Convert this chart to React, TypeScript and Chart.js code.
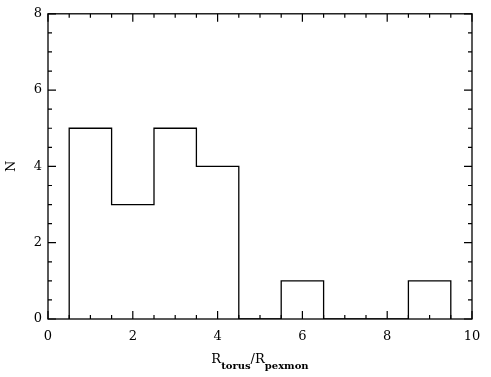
import React, { useEffect, useRef } from "react";
import { Chart, registerables } from "chart.js";

Chart.register(...registerables);

const binLeftEdges = [0.5, 1.5, 2.5, 3.5, 4.5, 5.5, 6.5, 7.5, 8.5];
const binWidth = 1;
const counts = [5, 3, 5, 4, 0, 1, 0, 0, 1];
const xTicks = [0, 2, 4, 6, 8, 10];
const yTicks = [0, 2, 4, 6, 8];
const yTitle = "N";
const xTitleParts = [
  { text: "R", sub: false },
  { text: "torus", sub: true },
  { text: "/R", sub: false },
  { text: "pexmon", sub: true },
];

const FONT = "'DejaVu Serif', 'Liberation Serif', serif";

export default function App() {
  const ref = useRef<HTMLCanvasElement | null>(null);

  useEffect(() => {
    document.body.style.margin = "0";
    const canvas = ref.current;
    if (!canvas) return;

    const pts: { x: number; y: number }[] = [];
    pts.push({ x: binLeftEdges[0], y: 0 });
    binLeftEdges.forEach((e, i) => pts.push({ x: e, y: counts[i] }));
    const last = binLeftEdges[binLeftEdges.length - 1] + binWidth;
    pts.push({ x: last, y: counts[counts.length - 1] });
    pts.push({ x: last, y: 0 });

    const frame = {
      id: "frame",
      afterDraw(chart: any) {
        const { ctx, chartArea: a, scales } = chart;
        const xs = scales.x;
        const ys = scales.y;
        ctx.save();
        ctx.strokeStyle = "#000";
        ctx.lineWidth = 1.3;
        ctx.strokeRect(a.left, a.top, a.right - a.left, a.bottom - a.top);
        ctx.lineWidth = 1.2;
        ctx.beginPath();
        for (let v = xs.min; v <= xs.max + 1e-9; v += 0.5) {
          const major = Math.abs(v / 2 - Math.round(v / 2)) < 1e-6;
          const len = major ? 8 : 4;
          const px = xs.getPixelForValue(v);
          ctx.moveTo(px, a.bottom);
          ctx.lineTo(px, a.bottom - len);
          ctx.moveTo(px, a.top);
          ctx.lineTo(px, a.top + len);
        }
        for (let v = ys.min; v <= ys.max + 1e-9; v += 0.5) {
          const major = Math.abs(v / 2 - Math.round(v / 2)) < 1e-6;
          const len = major ? 8 : 4;
          const py = ys.getPixelForValue(v);
          ctx.moveTo(a.left, py);
          ctx.lineTo(a.left + len, py);
          ctx.moveTo(a.right, py);
          ctx.lineTo(a.right - len, py);
        }
        ctx.stroke();

        // x title with subscripts
        const mainFont = `13px ${FONT}`;
        const subFont = `bold 10px ${FONT}`;
        let total = 0;
        const widths = xTitleParts.map((p) => {
          ctx.font = p.sub ? subFont : mainFont;
          const w = ctx.measureText(p.text).width;
          total += w;
          return w;
        });
        let x = (a.left + a.right) / 2 - total / 2;
        const base = 363;
        ctx.fillStyle = "#000";
        ctx.textBaseline = "alphabetic";
        ctx.textAlign = "left";
        xTitleParts.forEach((p, i) => {
          ctx.font = p.sub ? subFont : mainFont;
          ctx.fillText(p.text, x, p.sub ? base + 6 : base);
          x += widths[i];
        });
        ctx.restore();
      },
    };

    const chart = new Chart(canvas, {
      type: "line",
      data: {
        datasets: [
          {
            data: pts,
            stepped: "before",
            borderColor: "#000",
            borderWidth: 1.3,
            pointRadius: 0,
            fill: false,
          },
        ],
      },
      options: {
        animation: false,
        responsive: false,
        maintainAspectRatio: false,
        layout: { padding: { top: 6, right: 19, left: 0, bottom: 0 } },
        plugins: { legend: { display: false }, tooltip: { enabled: false } },
        scales: {
          x: {
            type: "linear",
            min: 0,
            max: 10,
            afterBuildTicks: (s: any) => {
              s.ticks = xTicks.map((v) => ({ value: v }));
            },
            afterFit: (s: any) => {
              s.height = 58;
            },
            grid: { display: false, drawTicks: false },
            border: { display: false },
            ticks: {
              padding: 10,
              color: "#000",
              font: { family: FONT, size: 13 },
              maxRotation: 0,
            },
          },
          y: {
            type: "linear",
            min: 0,
            max: 8,
            afterBuildTicks: (s: any) => {
              s.ticks = yTicks.map((v) => ({ value: v }));
            },
            afterFit: (s: any) => {
              s.width = 48;
            },
            grid: { display: false, drawTicks: false },
            border: { display: false },
            ticks: {
              padding: 6,
              color: "#000",
              font: { family: FONT, size: 13 },
            },
            title: {
              display: true,
              text: yTitle,
              color: "#000",
              font: { family: FONT, size: 13 },
              padding: { top: 4, bottom: 0 },
            },
          },
        },
      },
      plugins: [frame],
    });

    return () => chart.destroy();
  }, []);

  return (
    <div style={{ width: 491, height: 377, background: "#fff" }}>
      <canvas ref={ref} width={491} height={377} style={{ display: "block" }} />
    </div>
  );
}
